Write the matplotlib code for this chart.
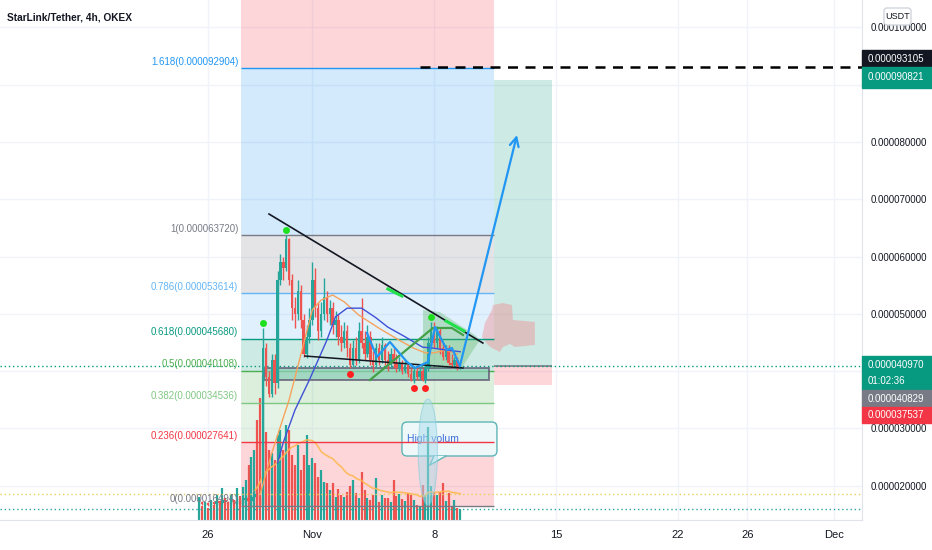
import matplotlib.pyplot as plt
import numpy as np
import pandas as pd
from matplotlib.patches import Polygon, Rectangle, Ellipse, FancyBboxPatch
from matplotlib.transforms import offset_copy, IdentityTransform

plt.rcParams['font.family'] = ['Liberation Sans Narrow', 'Liberation Sans', 'DejaVu Sans']

UP = '#26a69a'
DOWN = '#ef5350'
TEXT = '#131722'

# 4h candles, prices in 1e-6 USDT, x in days from Oct 26 (first candle Oct 25 12:00)
first_open = 16.8
close = [17.2, 16.9, 17.0, 16.7, 17.1, 16.8, 17.4, 17.0, 17.5, 17.2, 16.9, 17.3, 17.0, 17.6, 17.1, 17.5,
         17.9, 17.4, 18.0, 18.6, 17.8, 17.0,
         44, 39, 36, 42, 38, 56, 59, 58, 63, 56, 51, 50, 54, 49, 43, 46, 49, 56, 51, 47, 50, 53, 50, 51,
         48, 49, 46, 45, 47, 44, 41, 44, 42, 47, 45, 43, 46, 42, 41, 44, 42, 44.5, 42, 41, 43, 41.5,
         40.5, 41.5, 40, 41, 39.5, 38.5, 40, 39, 40, 38.5, 40.5, 45, 47, 45, 47, 44, 42.5, 44, 41.5,
         41, 42, 40.6, 40.97]
high = [17.5, 17.4, 17.2, 17.1, 17.4, 17.2, 17.7, 17.5, 17.8, 17.6, 17.3, 17.5, 17.4, 17.9, 17.7, 17.8,
        18.3, 18.1, 18.4, 19.2, 18.9, 18.0,
        47.5, 45, 40, 43, 43, 57.5, 60.5, 60, 63.72, 63.2, 57, 53, 56, 55, 50, 48, 51, 59, 58, 52, 52,
        56.3, 54, 52.5, 52, 50.5, 50, 48, 48.5, 48, 45, 45.5, 46, 48.5, 52.8, 47, 48, 47, 43.5, 45, 45,
        46, 45, 43.5, 44, 44, 43, 42.5, 42, 42, 41.5, 40.5, 40.8, 41, 40.6, 40.5, 41, 46, 48.5, 48.5,
        47.8, 47.5, 45, 44.6, 44.5, 43, 42.5, 42.5, 41.3]
low = [16.6, 16.7, 16.7, 16.494, 16.6, 16.6, 16.7, 16.8, 16.9, 16.9, 16.7, 16.8, 16.9, 16.9, 16.9, 17.0,
       17.3, 17.2, 17.3, 17.8, 17.6, 16.8,
       16.8, 37.5, 35.5, 35.5, 36, 37, 55, 56, 57.5, 55, 49, 47.5, 49, 47.5, 42.5, 42.3, 45, 48, 49.5,
       45.5, 46, 49, 48.5, 48, 46.5, 46, 44.5, 43.5, 44, 42.5, 40.5, 40.8, 41, 41.5, 44, 42, 42.5, 41,
       39.8, 40.5, 41, 41.5, 41, 40, 40.5, 40.5, 39.8, 40, 39.5, 39.6, 38.9, 38.3, 38.0, 38.5, 38.5,
       38.3, 38.0, 40, 44, 44, 44, 43, 42, 42, 41, 40.5, 40.5, 40.2, 40.4]
# volume, millions
volume = [2.3, 1.4, 1.8, 1.2, 2.0, 1.5, 2.5, 1.8, 3.2, 2.2, 1.7, 2.6, 2.0, 3.2, 2.4, 3.3, 4.0, 5.5,
          6.3, 7.0, 10.0, 12.2,
          14.5, 8.8, 7.0, 6.7, 6.0, 8.5, 9.0, 7.0, 9.5, 9.0, 6.5, 5.5, 7.5, 5.0, 6.5, 8.5,
          5.5, 6.2, 5.7, 4.3, 5.0, 3.8, 3.7, 3.0, 3.7, 2.3, 3.1, 2.5, 2.3, 2.8, 3.4, 4.0, 2.7, 2.2,
          4.8, 3.0, 2.2, 2.0, 2.5, 4.2, 1.8, 2.5, 2.2, 2.2, 1.8, 4.0, 2.4, 2.6, 2.1, 1.9, 2.7, 2.5,
          2.0, 1.5, 1.3, 3.5, 2.5, 9.3, 3.4, 2.8, 2.5, 2.8, 3.7, 1.9, 2.7, 1.3, 2.0, 1.2, 1.1]

# moving averages on the price pane (candle index, value)
ma_fast_idx = [21, 25, 31, 35, 39, 42, 46, 50, 55, 62, 69, 74, 78, 81, 85, 89]
ma_fast_val = [18.5, 25.7, 35.0, 42.8, 50.7, 52.4, 53.3, 52.1, 49.8, 47.5, 45.4, 44.0, 43.2, 43.2, 43.7, 43.0]
ma_slow_idx = [27, 29, 33, 38, 44, 47, 51, 56, 61, 65, 71, 77, 81, 85, 90]
ma_slow_val = [24.0, 27.6, 33.2, 38.5, 45.4, 49.5, 51.0, 51.0, 49.3, 47.7, 46.0, 44.2, 44.0, 43.7, 43.4]

pivot_high_idx = [22, 30, 80]
pivot_low_idx = [52, 74, 78]

# fib retracement
fib_ratios = ['0', '0.236', '0.382', '0.5', '0.618', '0.786', '1', '1.618']
fib_prices = [16.494, 27.641, 34.536, 40.108, 45.680, 53.614, 63.720, 92.904]
fib_colors = ['#787b86', '#f23645', '#81c784', '#4caf50', '#089981', '#64b5f6', '#787b86', '#2196f3']
fib_start, fib_end = 1.90, 16.44

# long position tool and price lines
pos_start, pos_end = 16.44, 19.77
pos_target, pos_entry, pos_stop = 90.821, 40.829, 37.537
last_price = 40.970
alert_price, alert_start = 93.105, 12.18

# drawings as (day, price)
trend_hi = ([3.51, 15.80], [67.43, 44.92])
trend_lo = ([5.57, 14.66], [42.65, 40.56])
zone = (3.22, 16.15, 38.46, 40.56)
cup_x = [9.31, 12.93, 14.02, 14.66]
cup_y = [38.46, 47.54, 47.54, 46.32]
break_marks = [([10.34, 11.15], [54.35, 53.12]), ([13.68, 14.71], [48.76, 47.02])]
wedge_area = [(12.36, 50.68), (13.33, 50.33), (14.20, 48.59), (15.34, 46.32), (15.63, 45.45),
              (15.06, 42.83), (14.60, 40.56), (12.36, 40.56)]
path_x = [9.14, 9.71, 10.46, 11.44, 11.90, 12.64, 13.05, 13.74, 14.02, 14.48]
path_y = [46.67, 42.48, 45.10, 41.61, 40.56, 41.61, 47.71, 43.70, 44.05, 40.91]
arrow_end = (17.76, 81.22)
cloud = [(16.38, 51.55), (16.95, 51.90), (17.47, 51.55), (17.53, 48.94), (18.79, 48.59), (18.79, 44.57),
         (17.64, 44.22), (17.36, 44.75), (16.95, 44.22), (16.78, 43.35), (16.32, 44.05), (16.09, 44.57),
         (15.75, 45.97), (15.92, 48.41), (16.32, 50.68)]
note_box = (11.15, 25.20, 16.61, 31.13)
note_tail = [(12.99, 25.20), (13.68, 25.20), (12.76, 23.63)]
note_text = 'High volum'
vol_ring = (12.64, 25.9, 1.1, 18.5)

date_ticks = [0, 6, 13, 20, 27, 31, 36]
date_labels = ['26', 'Nov', '8', '15', '22', '26', 'Dec']
price_ticks = [20, 30, 40, 50, 60, 70, 80, 90, 100]
# labels for 40 and 90 sit under the price tags
price_labeled = [20, 30, 50, 60, 70, 80, 100]

t = -0.5 + np.arange(len(close)) / 6
c = np.array(close)
h = np.array(high)
l = np.array(low)
o = np.r_[first_open, c[:-1]]
col = np.where(c >= o, UP, DOWN)

fig = plt.figure(figsize=(9.32, 5.5), dpi=100)
ax = fig.add_axes([0, 30 / 550, 862 / 932, 520 / 550])
xmin, xmax = -11.95, 37.59
ymin, ymax = 14.03, 104.78

# grid
for p in price_ticks:
    ax.axhline(p, color='#f0f3fa', lw=1, zorder=0)
for d in date_ticks:
    ax.axvline(d, color='#f0f3fa', lw=1, zorder=0)

# fib fills, lines and labels
for i in range(len(fib_prices) - 1):
    ax.fill_between([fib_start, fib_end], fib_prices[i], fib_prices[i + 1],
                    color=fib_colors[i + 1], alpha=0.2, lw=0, zorder=0.5)
ax.fill_between([fib_start, fib_end], fib_prices[-1], ymax, color='#f23645', alpha=0.2, lw=0, zorder=0.5)
ax.hlines(fib_prices, fib_start, fib_end, colors=fib_colors, lw=1, zorder=1.5)
for r, p, fc in zip(fib_ratios, fib_prices, fib_colors):
    ax.annotate(f"{r}({p * 1e-6:.9f})", xy=(fib_start, p), xytext=(-2, 1), textcoords='offset points',
                ha='right', va='bottom', color=fc, fontsize=7, zorder=6)

# long position
ax.add_patch(Rectangle((pos_start, pos_entry), pos_end - pos_start, pos_target - pos_entry,
                       fc='#089981', alpha=0.2, lw=0, zorder=0.5))
ax.add_patch(Rectangle((pos_start, pos_stop), pos_end - pos_start, pos_entry - pos_stop,
                       fc='#f23645', alpha=0.2, lw=0, zorder=0.5))
ax.hlines(pos_entry, pos_start, pos_end, color='#787b86', lw=1.2, zorder=1.6)

# cloud
ax.add_patch(Polygon(cloud, closed=True, fc='#f08b8f', alpha=0.42, lw=0, zorder=1.2))

# callout behind the volume
x0, y0, x1, y1 = note_box
ax.add_patch(FancyBboxPatch((x0, y0), x1 - x0, y1 - y0, boxstyle='round,pad=0,rounding_size=0.3',
                            mutation_aspect=3.04, fc='#eef8f9', ec='#5eb5b7', lw=1, zorder=0.9))
ax.add_patch(Polygon(note_tail, closed=True, fc='#eef8f9', lw=0, zorder=0.92))
for a in (note_tail[0], note_tail[1]):
    ax.plot([a[0], note_tail[2][0]], [a[1], note_tail[2][1]], color='#5eb5b7', lw=1, zorder=0.93)
ax.text(x0 + 0.29, (y0 + y1) / 2, note_text, color='#3d6fd8', fontsize=7.5, va='center', ha='left', zorder=0.95)

# volume pane on the same axes, scaled to the bottom of the chart
xt = ax.get_xaxis_transform()
vol = np.array(volume)
vol_top = vol.max() * 3.6
vol_ma = pd.Series(vol).rolling(20).mean().to_numpy()
ax.vlines(t, 0, vol / vol_top, colors=col, lw=1.6, transform=xt, zorder=1)
ax.plot(t, vol_ma / vol_top, color='#ffb74d', lw=1.2, alpha=0.85, transform=xt, zorder=1.1)
ax.plot([0, 1], [vol_ma[-1] / vol_top] * 2, color='#e8d15a', lw=1, ls=(0, (1, 2)), transform=ax.transAxes, zorder=1.1)
ax.plot([0, 1], [vol[-1] / vol_top] * 2, color='#26a69a', lw=1, ls=(0, (1, 2)), transform=ax.transAxes, zorder=1.1)
cx, cy, ew, eh = vol_ring
ax.add_patch(Ellipse((cx, cy), ew, eh, fc='#a9dcec', ec='#7ec8dc', alpha=0.5, lw=0.8, zorder=2.5))

# drawings
ax.add_patch(Rectangle((zone[0], zone[2]), zone[1] - zone[0], zone[3] - zone[2],
                       fc='#8fcfb8', ec='#5d5470', lw=1.4, alpha=0.75, zorder=2))
ax.add_patch(Polygon(wedge_area, closed=True, fc='#4caf50', alpha=0.3, lw=0, zorder=2))
ax.axhline(last_price, color='#089981', lw=1, ls=(0, (1, 2)), zorder=2)
ax.hlines(alert_price, alert_start, xmax, color='black', lw=1.8, ls=(0, (4, 3)), zorder=4)

# candles
ax.vlines(t, l, h, colors=col, lw=1.0, zorder=3)
ax.bar(t, np.maximum(np.abs(c - o), 0.15), bottom=np.minimum(o, c), width=0.14, color=col, lw=0, zorder=3.1)

# moving averages
ax.plot(t[ma_fast_idx], ma_fast_val, color='#f7a35c', lw=1, zorder=3.5)
ax.plot(t[ma_slow_idx], ma_slow_val, color='#3f51d6', lw=1, zorder=3.5)

ax.plot(*trend_hi, color=TEXT, lw=1.2, zorder=4)
ax.plot(*trend_lo, color=TEXT, lw=1.1, zorder=4)
ax.plot(cup_x, cup_y, color='#43a047', lw=1.6, zorder=4)
for bx, by in break_marks:
    ax.plot(bx, by, color='#22e04a', lw=2.2, zorder=4.1)
ax.plot(path_x, path_y, color='#2196f3', lw=1.6, zorder=4.2)
ax.annotate('', xy=arrow_end, xytext=(path_x[-1], path_y[-1]),
            arrowprops=dict(arrowstyle='->', color='#2196f3', lw=1.6, mutation_scale=16,
                            shrinkA=0, shrinkB=0), zorder=4.2)

up_tr = offset_copy(ax.transData, fig=fig, y=4, units='points')
dn_tr = offset_copy(ax.transData, fig=fig, y=-4, units='points')
ax.plot(t[pivot_high_idx], h[pivot_high_idx], 'o', color='#1ee01e', ms=5, mew=0, transform=up_tr, zorder=5)
ax.plot(t[pivot_low_idx], l[pivot_low_idx], 'o', color='#ff1f1f', ms=5, mew=0, transform=dn_tr, zorder=5)

# axes
ax.set_xlim(xmin, xmax)
ax.set_ylim(ymin, ymax)
ax.yaxis.tick_right()
ax.set_yticks(price_labeled, [f"{v * 1e-6:.9f}" for v in price_labeled])
ax.set_xticks(date_ticks, date_labels)
ax.tick_params(axis='y', length=0, pad=6, labelsize=7, colors=TEXT)
ax.tick_params(axis='x', length=0, pad=7, labelsize=8, colors=TEXT)
for s in ('top', 'left'):
    ax.spines[s].set_visible(False)
for s in ('bottom', 'right'):
    ax.spines[s].set_color('#e0e3eb')

fig.text(7 / 932, 1 - 18 / 550, 'StarLink/Tether, 4h, OKEX', fontsize=7.3, fontweight='bold',
         color=TEXT, va='center')

# price scale tags (pixel positions of the stacked labels)
px = IdentityTransform()


def tag(top, bottom, color, lines):
    fig.add_artist(Rectangle((862, 550 - bottom), 70, bottom - top, transform=px, color=color, zorder=3))
    step = (bottom - top) / len(lines)
    for k, s in enumerate(lines):
        fig.text(868, 550 - (top + step * (k + 0.5)), s, transform=px, color='white',
                 fontsize=7, va='center', zorder=4)


tag(50, 67, '#131722', ['0.000093105'])
tag(67, 88, '#089981', ['0.000090821'])
tag(356, 390, '#089981', ['0.000040970', '01:02:36'])
tag(390, 407, '#787b86', ['0.000040829'])
tag(407, 423, '#f23645', ['0.000037537'])

fig.add_artist(FancyBboxPatch((884, 550 - 25), 27, 17, boxstyle='round,pad=0,rounding_size=3',
                              transform=px, fc='white', ec='#d1d4dc', lw=1, zorder=3))
fig.text(897.5, 550 - 16.5, 'USDT', transform=px, fontsize=6.5, color=TEXT, ha='center', va='center', zorder=4)

fig.savefig('out.png', dpi=100, facecolor='white')
